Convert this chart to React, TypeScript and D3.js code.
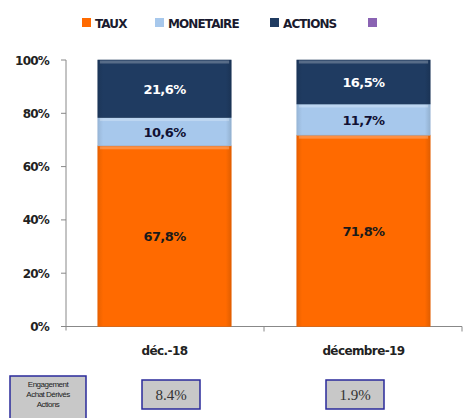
import React from "react";
import * as d3 from "d3";

const categories = ["déc.-18", "décembre-19"];
const seriesNames = ["TAUX", "MONETAIRE", "ACTIONS"];
const taux = [67.8, 71.8];
const monetaire = [10.6, 11.7];
const actions = [21.6, 16.5];
const yTicks = [0, 20, 40, 60, 80, 100];
const engagementLabel = ["Engagement", "Achat Dérivés", "Actions"];
const engagementValues = ["8.4%", "1.9%"];

const colors = ["#FF6A00", "#A7C8EC", "#1F3B61", "#8A63B3"];
const labelColors = ["#1a1a1a", "#111133", "#ffffff"];

export default function App() {
  const W = 465, H = 418;
  const x0 = 66, x1 = 462, yTop = 60, yBot = 326.5;
  const x = d3.scaleBand<string>().domain(categories).range([x0, x1]).paddingInner(0.33).paddingOuter(0.16);
  const y = d3.scaleLinear().domain([0, 100]).range([yBot, yTop]);
  const data = categories.map((c, i) => ({ cat: c, TAUX: taux[i], MONETAIRE: monetaire[i], ACTIONS: actions[i] }));
  const stack = d3.stack<any>().keys(seriesNames)(data);
  const font = "'DejaVu Sans', Verdana, sans-serif";
  const legendItems = [
    { name: "TAUX", mx: 82, tx: 95 },
    { name: "MONETAIRE", mx: 155, tx: 168 },
    { name: "ACTIONS", mx: 270, tx: 283 },
    { name: "", mx: 368, tx: 382 },
  ];
  const boxCenters = [171, 355];
  const band = x.bandwidth();
  return (
    <svg width={W} height={H} style={{ position: "absolute", left: 0, top: 0, background: "#fff" }}>
      <defs>
        {colors.map((c, i) => (
          <linearGradient key={i} id={`g${i}`} x1="0" x2="1" y1="0" y2="0">
            <stop offset="0" stopColor={d3.color(c)!.darker(0.25).toString()} />
            <stop offset="0.04" stopColor={c} />
            <stop offset="0.96" stopColor={c} />
            <stop offset="1" stopColor={d3.color(c)!.darker(0.35).toString()} />
          </linearGradient>
        ))}
      </defs>
      {/* legend */}
      {legendItems.map((l, i) => (
        <g key={i}>
          <rect x={l.mx} y={18} width={9} height={9} fill={colors[i]} />
          {l.name && (
            <text x={l.tx} y={27.5} fontFamily={font} fontWeight="bold" fontSize={12} fill="#1a1a2e" letterSpacing={-0.9}>
              {l.name}
            </text>
          )}
        </g>
      ))}
      {/* axis */}
      <line x1={x0} x2={x0} y1={yTop} y2={yBot + 4} stroke="#888" strokeWidth={1} />
      <line x1={x0 - 4} x2={x1} y1={yBot} y2={yBot} stroke="#888" strokeWidth={1} />
      {yTicks.map((t) => (
        <g key={t}>
          <line x1={x0 - 5} x2={x0} y1={y(t)} y2={y(t)} stroke="#888" />
          <text x={49} y={y(t) + 4.5} textAnchor="end" fontFamily={font} fontWeight="bold" fontSize={12} fill="#222" letterSpacing={-0.8}>
            {t}%
          </text>
        </g>
      ))}
      {[x0 + (x1 - x0) / 2, x1].map((tx, i) => (
        <line key={i} x1={tx} x2={tx} y1={yBot} y2={yBot + 5} stroke="#888" />
      ))}
      {/* bars */}
      {stack.map((s, si) =>
        s.map((d, di) => {
          const bx = x(categories[di])!;
          const top = y(d[1]);
          const bot = y(d[0]);
          const val = (d[1] - d[0]);
          return (
            <g key={`${si}-${di}`}>
              <rect x={bx} y={top} width={band} height={bot - top} fill={`url(#g${si})`} stroke={d3.color(colors[si])!.darker(0.3).toString()} strokeWidth={0.6} />
              <rect x={bx + 2} y={top + 0.5} width={band - 4} height={3} fill="#ffffff" opacity={0.25} />
              <text x={bx + band / 2} y={(top + bot) / 2 + 5} textAnchor="middle" fontFamily={font} fontWeight="bold" fontSize={13} fill={labelColors[si]} letterSpacing={-0.6}>
                {val.toFixed(1).replace(".", ",")}%
              </text>
            </g>
          );
        })
      )}
      {/* category labels */}
      {categories.map((c) => (
        <text key={c} x={x(c)! + band / 2} y={355} textAnchor="middle" fontFamily={font} fontWeight="bold" fontSize={12} fill="#222" letterSpacing={-0.6}>
          {c}
        </text>
      ))}
      {/* engagement boxes */}
      <rect x={10} y={376} width={76} height={44} fill="#c8c8c8" stroke="#2a2a9a" strokeWidth={1.5} />
      {engagementLabel.map((t, i) => (
        <text key={i} x={48} y={387 + i * 10} textAnchor="middle" fontFamily="'Liberation Sans', Arial, sans-serif" fontSize={8} fill="#222" letterSpacing={-0.5}>
          {t}
        </text>
      ))}
      {engagementValues.map((v, i) => {
        const cx = boxCenters[i];
        return (
          <g key={v}>
            <rect x={cx - 29} y={380} width={58} height={29} fill="#c8c8c8" stroke="#2a2a9a" strokeWidth={1.5} />
            <text x={cx} y={400} textAnchor="middle" fontFamily="'Liberation Serif', 'Times New Roman', serif" fontSize={15} fill="#333">
              {v}
            </text>
          </g>
        );
      })}
    </svg>
  );
}
